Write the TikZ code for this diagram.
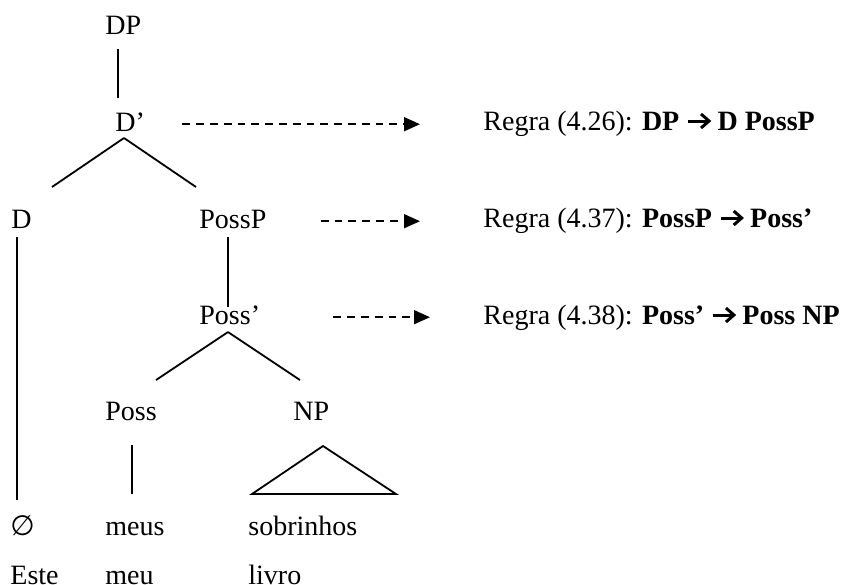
\documentclass[tikz,border=0pt]{standalone}
\usepackage{fontspec}
\setmainfont{Liberation Serif}
\newfontfamily\simb{DejaVu Sans}
\usepackage{tikz}
\usetikzlibrary{arrows.meta,positioning}
\newcommand{\setaregra}{\tikz[baseline=0pt]{\draw[line width=1.5pt] (0pt,4.5pt)--(10.5pt,4.5pt);
  \draw[line width=1.5pt,miter limit=4] (6.6pt,8pt)--(10.6pt,4.5pt)--(6.6pt,1pt);}}

\begin{document}
\begin{tikzpicture}[x=0.5pt,y=-0.5pt,
  cat/.style={inner sep=0pt,anchor=base west,text height=0.68em,text depth=0pt,font=\fontsize{14}{17}\selectfont},
  ramo/.style={line width=0.9pt},
  seta/.style={dashed,dash pattern=on 3.9pt off 3pt,line width=0.8pt,-{Triangle[length=8pt,width=7pt]}}]
\useasboundingbox (0,0) rectangle (843,585);
\node[cat] (dp) at (105,34) {DP};
\node[cat] (dbar) at (115,131) {D’};
\node[cat] (d) at (11,228) {D};
\node[cat] (possp) at (199,228) {PossP};
\node[cat] (possbar) at (199,324) {Poss’};
\node[cat] (poss) at (105,420) {Poss};
\node[cat] (np) at (293,420) {NP};
\node[cat] (nul) at (10,535) {\simb ∅};
\node[cat] (meus) at (105,535) {meus};
\node[cat] (sobrinhos) at (248,535) {sobrinhos};
\node[cat] (este) at (10,584) {Este};
\node[cat] (meu) at (105,584) {meu};
\node[cat] (livro) at (248,584) {livro};
\node[cat] (r1) at (483,130) {Regra (4.26): \textbf{DP \setaregra{} D PossP}};
\node[cat] (r2) at (483,227) {Regra (4.37): \textbf{PossP \setaregra{} Poss’}};
\node[cat] (r3) at (483,324) {Regra (4.38): \textbf{Poss’ \setaregra{} Poss NP}};
\coordinate (dp-b) at (118,49);
\coordinate (dbar-t) at (118,98);
\coordinate (dbar-b) at (124,138);
\coordinate (d-t) at (52,187);
\coordinate (possp-t) at (196,187);
\coordinate (d-b) at (17,237);
\coordinate (nul-t) at (17,500);
\coordinate (possp-b) at (228,237);
\coordinate (possbar-t) at (228,307);
\coordinate (possbar-b) at (228,332);
\coordinate (poss-t) at (156,380);
\coordinate (np-t) at (300,380);
\coordinate (poss-b) at (132,445);
\coordinate (meus-t) at (132,494);
\coordinate (np-b) at (323,446);
\coordinate (tri-l) at (252,494);
\coordinate (tri-r) at (396,494);
\draw[ramo] (dp-b)--(dbar-t);
\draw[ramo] (dbar-b)--(d-t);
\draw[ramo] (dbar-b)--(possp-t);
\draw[ramo] (d-b)--(nul-t);
\draw[ramo] (possp-b)--(possbar-t);
\draw[ramo] (possbar-b)--(poss-t);
\draw[ramo] (possbar-b)--(np-t);
\draw[ramo] (poss-b)--(meus-t);
\draw[ramo] (np-b)--(tri-l)--(tri-r)--cycle;
\draw[seta,shorten <=18.5pt,shorten >=31.5pt] (dbar.east)--(dbar.east -| r1.west);
\draw[seta,shorten <=27pt,shorten >=31.5pt] (possp.east)--(possp.east -| r2.west);
\draw[seta,shorten <=36.5pt,shorten >=26.5pt] (possbar.east)--(possbar.east -| r3.west);
\end{tikzpicture}
\end{document}
